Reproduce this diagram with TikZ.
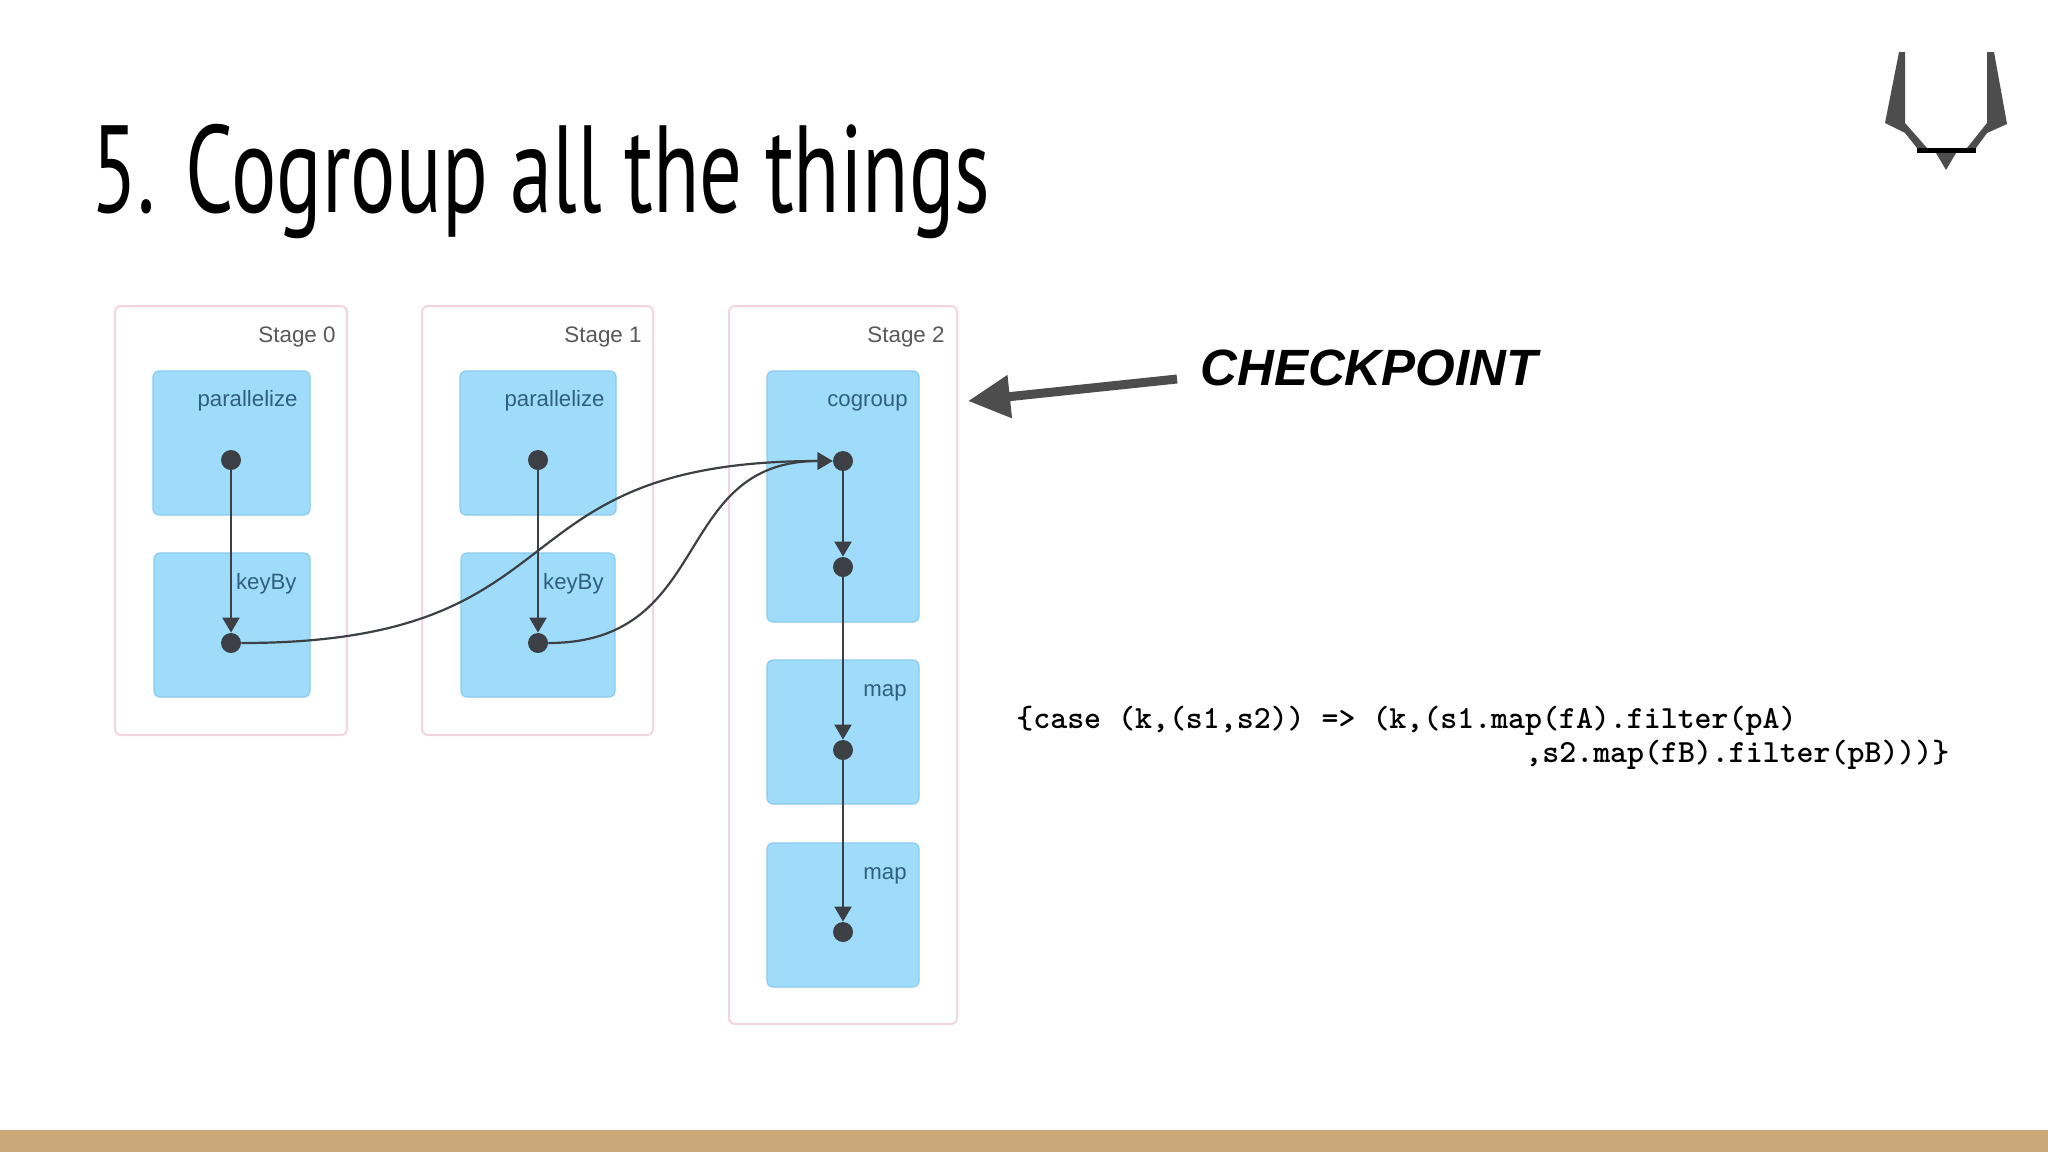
\documentclass[tikz,border=0pt]{standalone}
\usepackage{fontspec}
\setmainfont{Liberation Sans}
\newfontfamily\titlefont[FakeStretch=0.683]{PT Sans}
\usetikzlibrary{arrows.meta}
\definecolor{bandtan}{HTML}{CBA877}
\definecolor{stagepink}{HTML}{F3D6DD}
\definecolor{opfill}{HTML}{9FDCFB}
\definecolor{opline}{HTML}{8ACBEE}
\definecolor{optext}{HTML}{2F5F7E}
\definecolor{flowgray}{HTML}{3C4045}
\definecolor{logogray}{HTML}{4D4D4D}
\tikzset{
  stagebox/.style={draw=stagepink,line width=1pt,fill=white,rounded corners=3pt},
  opbox/.style={draw=opline,line width=0.6pt,fill=opfill,rounded corners=3pt},
  stagelabel/.style={anchor=base east,inner sep=0pt,text=black!65,font=\fontsize{11.2}{14}\selectfont},
  oplabel/.style={anchor=base east,inner sep=0pt,text=optext,font=\fontsize{11.1}{14}\selectfont},
  dot/.style={circle,fill=flowgray,inner sep=0pt,minimum size=10pt},
  flow/.style={draw=flowgray,line width=1.1pt,-{Triangle[length=7.5pt,width=8.5pt]}},
  flowcurve/.style={flow},
  codeline/.style={anchor=base west,inner sep=0pt,font=\ttfamily\bfseries\fontsize{16.15}{19}\selectfont},
}
\begin{document}
\begin{tikzpicture}[x=0.5pt,y=-0.5pt]
\useasboundingbox (0,0) rectangle (2048,1152);
\fill[bandtan] (0,1130) rectangle (2048,1152);
\node[anchor=base west,inner sep=0pt,font=\titlefont\fontsize{62}{70}\selectfont] (title) at (91,212) {5. Cogroup all the things};
% logo
\fill[logogray] (1899,52) -- (1905,52) -- (1905,123) -- (1927,148) -- (1917,148) -- (1905,133) -- (1885,123) -- cycle;
\fill[logogray] (1994,52) -- (1987,52) -- (1987,123) -- (1967,148) -- (1976,148) -- (1987,133) -- (2007,124) -- cycle;
\fill[black] (1917,148) rectangle (1976,153);
\fill[logogray] (1936,153) -- (1956,153) -- (1946,170) -- cycle;
% stages
\draw[stagebox] (115,306) rectangle (347,735);
\node[stagelabel] (stage0) at (336,342) {Stage 0};
\draw[stagebox] (422,306) rectangle (653,735);
\node[stagelabel] (stage1) at (642,342) {Stage 1};
\draw[stagebox] (729,306) rectangle (957,1024);
\node[stagelabel] (stage2) at (945,342) {Stage 2};
% operators
\draw[opbox] (153,371) rectangle (310,515);
\node[oplabel] (par0) at (298,406) {parallelize};
\draw[opbox] (154,553) rectangle (310,697);
\node[oplabel] (key0) at (297,589) {keyBy};
\draw[opbox] (460,371) rectangle (616,515);
\node[oplabel] (par1) at (605,406) {parallelize};
\draw[opbox] (461,553) rectangle (615,697);
\node[oplabel] (key1) at (604,589) {keyBy};
\draw[opbox] (767,371) rectangle (919,622);
\node[oplabel] (cog) at (908,406) {cogroup};
\draw[opbox] (767,660) rectangle (919,804);
\node[oplabel] (map1) at (907,696) {map};
\draw[opbox] (767,843) rectangle (919,987);
\node[oplabel] (map2) at (907,879) {map};
% dots
\node[dot] (dpar0) at (231,460) {};
\node[dot] (dkey0) at (231,643) {};
\node[dot] (dpar1) at (538,460) {};
\node[dot] (dkey1) at (538,643) {};
\node[dot] (dcog) at (843,461) {};
\node[dot] (dcog2) at (843,567) {};
\node[dot] (dmap1) at (843,750) {};
\node[dot] (dmap2) at (843,932) {};
% flows
\draw[flow] (dpar0) -- (dkey0);
\draw[flow] (dpar1) -- (dkey1);
\draw[flow] (dcog) -- (dcog2);
\draw[flow] (dcog2) -- (dmap1);
\draw[flow] (dmap1) -- (dmap2);
\draw[flowcurve] (dkey0) .. controls (590,643) and (487,461) .. (dcog);
\draw[flowcurve] (dkey1) .. controls (715,643) and (670,461) .. (dcog);
% checkpoint
\node[anchor=base west,inner sep=0pt,font=\bfseries\itshape\fontsize{25.5}{30}\selectfont] (chk) at (1200,385) {CHECKPOINT};
\coordinate (chkfrom) at (1177,379);
\coordinate (chkto) at (968,401);
\draw[draw=logogray,line width=4.5pt,-{Triangle[length=21pt,width=20.5pt]}] (chkfrom) -- (chkto);
% code
\node[codeline] (code1) at (1016,728) {\{case (k,(s1,s2)) => (k,(s1.map(fA).filter(pA)};
\node[codeline] (code2) at (1525,762) {,s2.map(fB).filter(pB)))\}};
\end{tikzpicture}
\end{document}
